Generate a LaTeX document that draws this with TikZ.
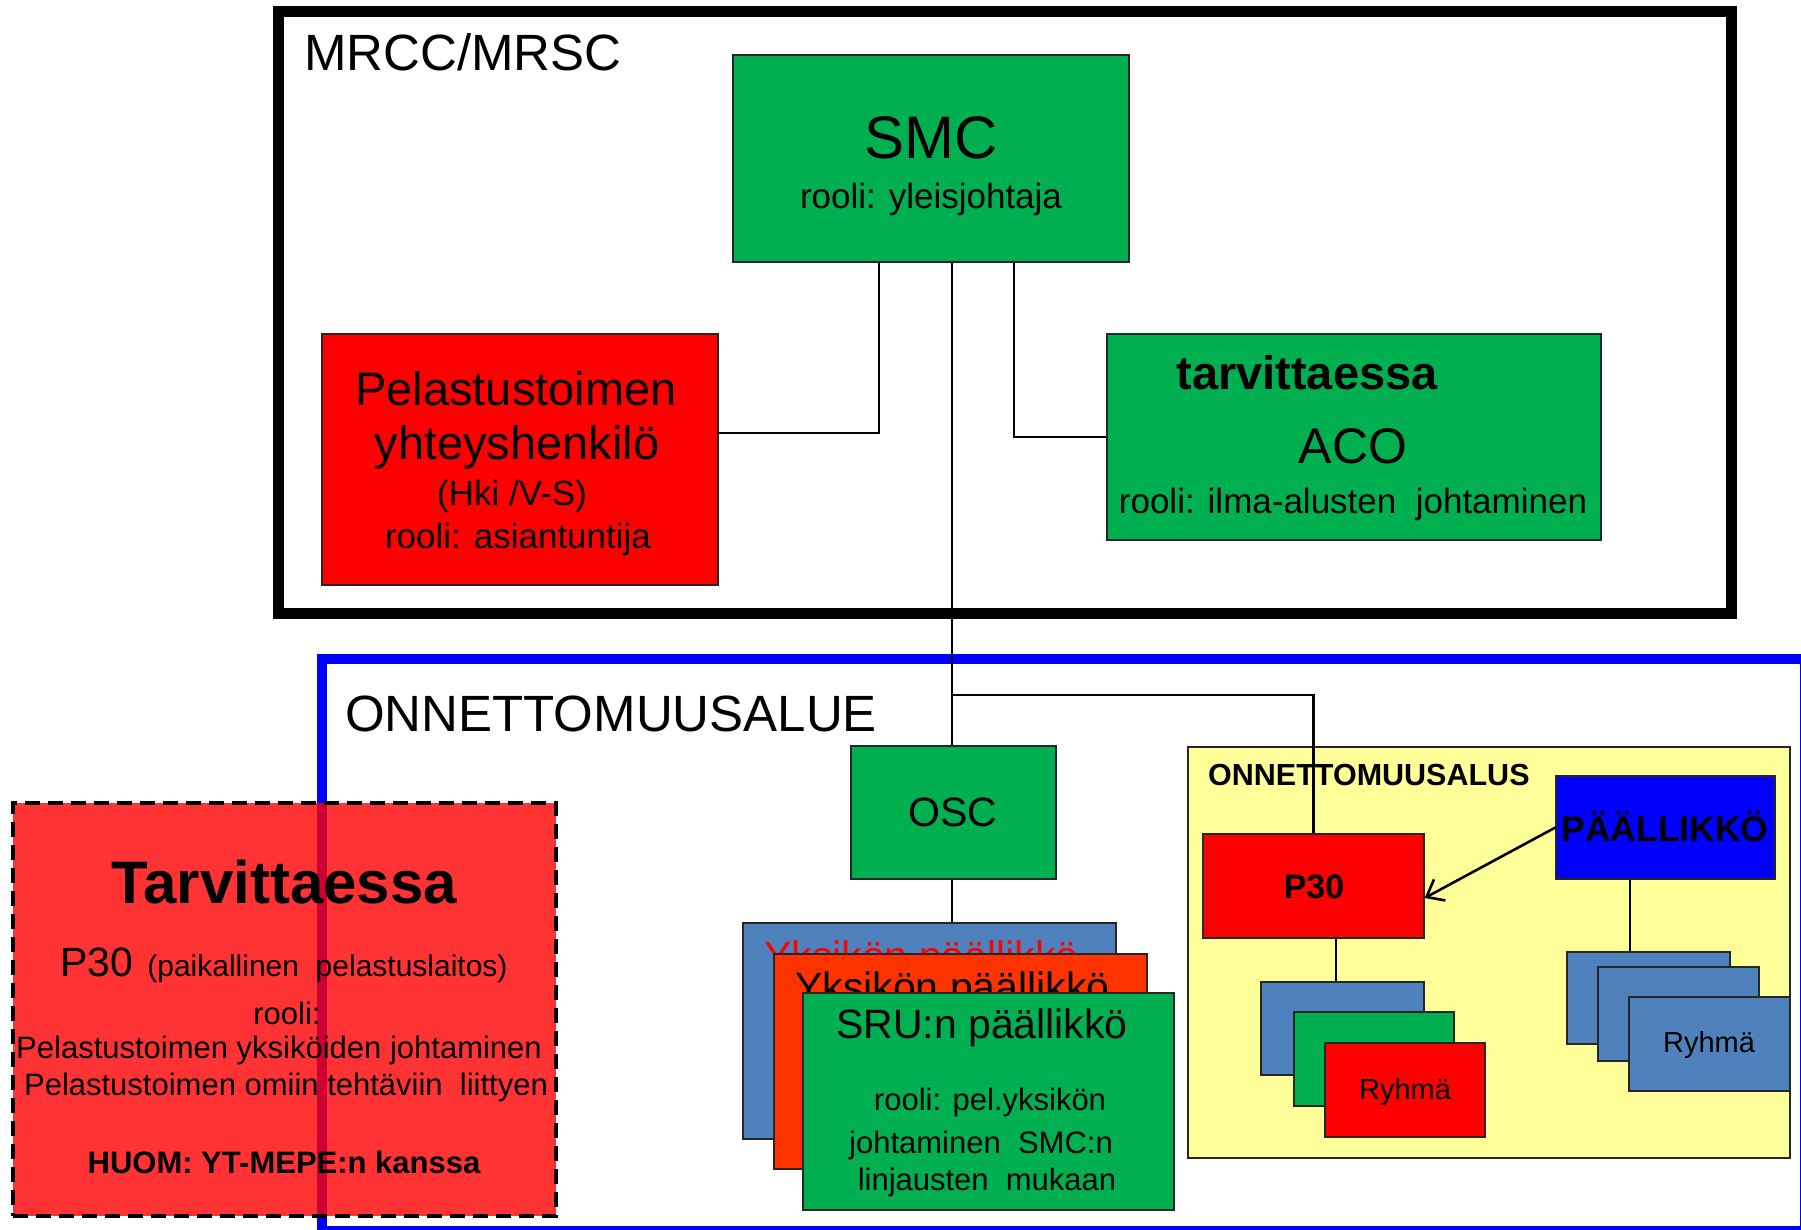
\documentclass[tikz,border=0pt]{standalone}
\usepackage{fontspec}
\setmainfont{Liberation Sans}
\usetikzlibrary{arrows.meta}

\definecolor{boxgreen}{HTML}{00B050}
\definecolor{boxred}{HTML}{FF0000}
\definecolor{boxorange}{HTML}{FF3300}
\definecolor{boxsteel}{HTML}{4F81BD}
\definecolor{boxyellow}{HTML}{FFFF99}
\definecolor{boxblue}{HTML}{0000FF}
\definecolor{areablue}{HTML}{0000FF}

\newcommand{\fsz}[1]{\fontsize{#1}{#1}\selectfont}

\begin{document}
\begin{tikzpicture}[x = 1pt, y = -1pt,
		box/.style = {draw = black!85, line width = 1.3pt, inner sep = 0pt},
		txt/.style = {inner sep = 0pt, anchor = center},
		link/.style = {draw = black, line width = 2.3pt}]
			\useasboundingbox (0,0) rectangle (1801,1230);

			% Draw the MRCC/MRSC frame
			\draw[line width = 11pt] (278.5,11.5) rectangle (1731.5,613.5);
			\node[txt, anchor = west] (mrcc) at (304,52) {\fsz{51}MRCC/MRSC};

			% Draw the boxes inside the frame
			\node[box, fill = boxgreen, minimum width = 396pt, minimum height = 207pt] (smc) at (931,158.5) {};
			\node[txt] (smcname) at (931,138) {\fsz{60}SMC};
			\node[txt] (smcrole) at (931,199) {\fsz{35}rooli: yleisjohtaja};

			\node[box, fill = boxred, minimum width = 396pt, minimum height = 251pt] (pel) at (520,459.5) {};
			\node[txt] (pel1) at (516,389) {\fsz{47}Pelastustoimen};
			\node[txt] (pel2) at (517,447) {\fsz{47}yhteyshenkilö};
			\node[txt] (pel3) at (512,496) {\fsz{35}(Hki /V-S)};
			\node[txt] (pel4) at (518,539) {\fsz{35}rooli: asiantuntija};

			\node[box, fill = boxgreen, minimum width = 494pt, minimum height = 206pt] (aco) at (1354,437) {};
			\node[txt] (aco1) at (1307,373) {\fsz{47}\bfseries tarvittaessa};
			\node[txt] (aco2) at (1353,446) {\fsz{50}ACO};
			\node[txt] (aco3) at (1353,504) {\fsz{35}rooli: ilma-alusten~~johtaminen};

			% Draw the ONNETTOMUUSALUE frame
			\draw[areablue, line width = 10pt] (322,658.5) rectangle (1805,1231);
			\node[txt, anchor = west] (alue) at (345,714) {\fsz{51}ONNETTOMUUSALUE};

			\node[box, fill = boxgreen, minimum width = 205pt, minimum height = 133pt] (osc) at (953.5,812.5) {};
			\node[txt] (oscname) at (953,812) {\fsz{41}OSC};

			% Draw the stack of unit leaders
			\node[box, fill = boxsteel, minimum width = 373pt, minimum height = 216pt] (yb) at (929.5,1031) {};
			\node[txt, anchor = base west, text = boxred] (ybtext) at (764,970) {\fsz{41}Yksikön päällikkö};
			\node[box, fill = boxorange, minimum width = 373pt, minimum height = 215pt] (yo) at (960.5,1061.5) {};
			\node[txt, anchor = base west] (yotext) at (795,1001) {\fsz{41}Yksikön päällikkö};
			\node[box, fill = boxgreen, minimum width = 371pt, minimum height = 217pt] (sru) at (988.5,1101.5) {};
			\node[txt] (sru1) at (982,1028) {\fsz{41}SRU:n päällikkö};
			\node[txt] (sru2) at (990,1102) {\fsz{31}rooli: pel.yksikön};
			\node[txt] (sru3) at (981,1145) {\fsz{31}johtaminen~~SMC:n};
			\node[txt] (sru4) at (987,1182) {\fsz{31}linjausten~~mukaan};

			% Draw the ship box
			\node[box, fill = boxyellow, minimum width = 602pt, minimum height = 411pt] (alus) at (1489,952.5) {};
			\node[txt, anchor = west] (alustext) at (1208,775) {\fsz{30.5}\bfseries ONNETTOMUUSALUS};

			\node[box, fill = boxred, minimum width = 221pt, minimum height = 104pt] (p30) at (1313.5,886) {};
			\node[txt] (p30text) at (1314,887) {\fsz{34}\bfseries P30};
			\node[box, fill = boxblue, minimum width = 219pt, minimum height = 103pt] (pal) at (1665.5,827.5) {};
			\node[txt] (paltext) at (1665,827) {\fsz{35.5}\bfseries PÄÄLLIKKÖ};

			\node[box, fill = boxsteel, minimum width = 163pt, minimum height = 93pt] (ra) at (1342.5,1028.5) {};
			\node[box, fill = boxgreen, minimum width = 160pt, minimum height = 94pt] (rg) at (1374,1059) {};
			\node[box, fill = boxred, minimum width = 160pt, minimum height = 94pt] (rr) at (1405,1090) {};
			\node[txt] (rrtext) at (1405,1092) {\fsz{29}Ryhmä};

			\node[box, fill = boxsteel, minimum width = 163pt, minimum height = 92pt] (rb1) at (1648.5,998) {};
			\node[box, fill = boxsteel, minimum width = 161pt, minimum height = 94pt] (rb2) at (1678.5,1014) {};
			\node[box, fill = boxsteel, minimum width = 161pt, minimum height = 94pt] (rb3) at (1709.5,1044) {};
			\node[txt] (rbtext) at (1709,1045) {\fsz{29}Ryhmä};

			% Draw the connectors
			\coordinate (branch) at (952,695);
			\draw[link] (879,0 |- smc.south) |- (pel.east |- 0,433);
			\draw[link] (1014,0 |- smc.south) |- (aco.west |- 0,437);
			\draw[link] (952,0 |- smc.south) -- (952,0 |- osc.north);
			\draw[link] (branch) -| (p30.north);
			\draw[link] (952,0 |- osc.south) -- (952,0 |- yb.north);
			\draw[link, line width = 1.6pt] (1336,0 |- p30.south) -- (1336,0 |- ra.north);
			\draw[link, line width = 1.6pt] (1630,0 |- pal.south) -- (1630,0 |- rb1.north);
			\draw[link, line width = 2.6pt, -{Straight Barb[length = 15pt, width = 24pt]}] (pal.west) -- ([yshift = -12pt]p30.east);

			% Draw the optional rescue department box
			\node[box, draw = black, line width = 3.5pt, dash pattern = on 15pt off 8pt, fill = boxred, fill opacity = 0.8, text opacity = 1, minimum width = 543pt, minimum height = 413pt] (tarv) at (284.5,1009.5) {};
			\node[txt] (tarv1) at (284,882) {\fsz{60}\bfseries Tarvittaessa};
			\node[txt] (tarv2) at (284,965) {{\fsz{41}P30}\hspace{14pt}{\fsz{30}(paikallinen~~pelastuslaitos)}};
			\node[txt] (tarv3) at (287,1013) {\fsz{31}rooli:};
			\node[txt] (tarv4) at (279,1050) {\fsz{31}Pelastustoimen yksiköiden johtaminen};
			\node[txt] (tarv5) at (286,1087) {\fsz{31}Pelastustoimen omiin tehtäviin~~liittyen};
			\node[txt] (tarv6) at (284,1162) {\fsz{31}\bfseries HUOM: YT-MEPE:n kanssa};

		\end{tikzpicture}
\end{document}
